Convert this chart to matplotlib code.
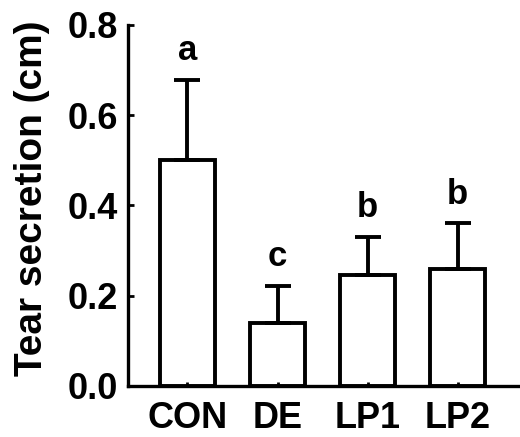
import matplotlib.pyplot as plt

# Dados do gráfico
groups = ['CON', 'DE', 'LP1', 'LP2']
means = [0.50, 0.14, 0.246, 0.26]
errors = [0.178, 0.082, 0.084, 0.10]
letters = ['a', 'c', 'b', 'b']
yticks = [0.0, 0.2, 0.4, 0.6, 0.8]

plt.rcParams['font.family'] = ['Liberation Sans', 'DejaVu Sans']
plt.rcParams['font.weight'] = 'bold'

fig = plt.figure(figsize=(5.2, 4.37), dpi=100)
ax = fig.add_axes([0.246, 0.117, 0.754, 0.826])

x = list(range(len(groups)))
ax.bar(x, means, width=0.61, color='white', edgecolor='black', linewidth=2.8)
ax.errorbar(x, means, yerr=[[0] * len(means), errors], fmt='none',
            ecolor='black', elinewidth=2.8, capsize=9.7, capthick=2.8)

for xi, m, e, l in zip(x, means, errors, letters):
    ax.text(xi, m + e + 0.028, l, ha='center', va='bottom',
            fontsize=25, fontweight='bold')

ax.set_xlim(-0.66, 3.69)
ax.set_ylim(0, 0.8)
ax.set_yticks(yticks)
ax.set_yticklabels(['0.0', '0.2', '0.4', '0.6', '0.8'])
ax.set_xticks(x)
ax.set_xticklabels(groups)
ax.set_ylabel('Tear secretion (cm)', fontsize=28, fontweight='bold')
ax.yaxis.set_label_coords(-0.198, 0.52)

for s in ['top', 'right']:
    ax.spines[s].set_visible(False)
for s in ['left', 'bottom']:
    ax.spines[s].set_linewidth(2.4)

ax.tick_params(axis='y', direction='in', length=4, width=2, labelsize=26, pad=7)
ax.tick_params(axis='x', direction='in', length=3, width=2, labelsize=26, pad=11)

fig.savefig('out.png', dpi=100)
